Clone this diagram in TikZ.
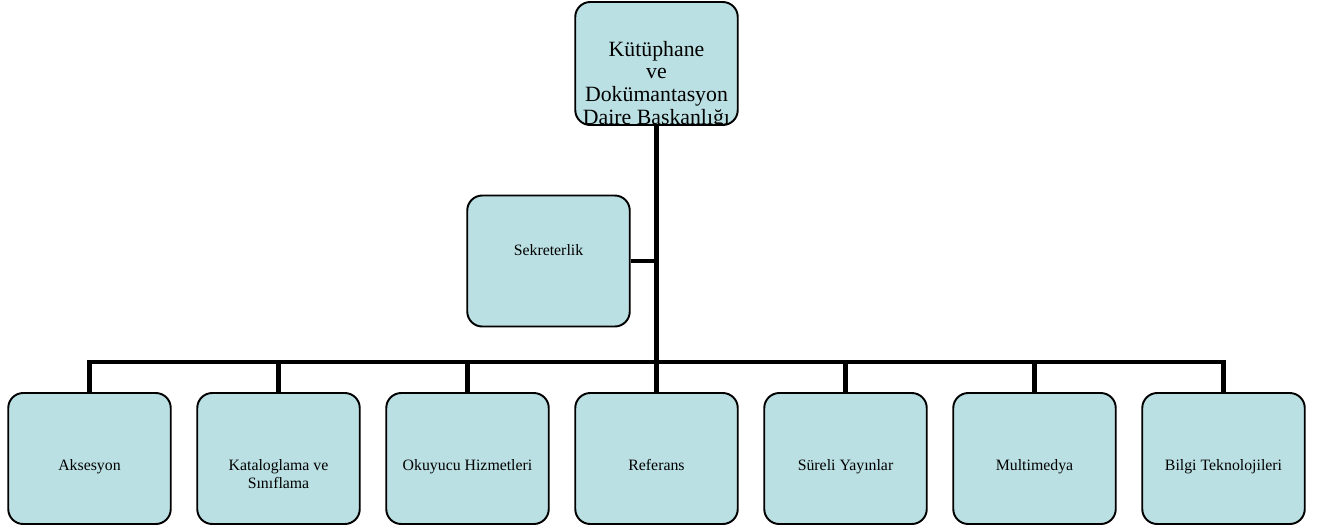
\documentclass[tikz,border=0pt]{standalone}
\usepackage{fontspec}
\setmainfont{Liberation Serif}
\usepackage{xcolor}
\usepackage{tikz}
\definecolor{boxblue}{HTML}{BBE0E3}

\begin{document}
\begin{tikzpicture}[
  box/.style={draw, rounded corners=0.3cm, fill=boxblue, line width=1.1pt, minimum width=3.25cm, minimum height=2.62cm, inner sep=0pt},
  boxtext/.style={draw=none, fill=none, inner sep=0pt, minimum size=0pt, align=center, font=\fontsize{9}{10.2}\selectfont},
  unit/.style={box, label={[boxtext, anchor=north, yshift=-1.34cm]north:#1}},
  level 1/.style={sibling distance=3.78cm, level distance=7.9cm},
  edge from parent/.style={draw, line width=2.7pt},
  edge from parent path={(\tikzparentnode.south) -- ++(0,-4.72) -| (\tikzchildnode.north)}
]
\useasboundingbox (0,0) rectangle (26.48,-10.58);
\node[box, minimum height=2.46cm, path picture={
    \node[boxtext, anchor=north, font=\fontsize{12.4}{12.9}\selectfont] (dairetext)
      at ([yshift=-0.76cm]path picture bounding box.north)
      {Kütüphane\\ve\\Dokümantasyon\\Daire Baskanlığı};
  }] (daire) at (13.13,-1.27) {}
  child {node[unit=Aksesyon] (aksesyon) {}}
  child {node[unit={Kataloglama ve\\Sınıflama}] (kataloglama) {}}
  child {node[unit={Okuyucu Hizmetleri}] (okuyucu) {}}
  child {node[unit=Referans] (referans) {}}
  child {node[unit={Süreli Yayınlar}] (sureli) {}}
  child {node[unit=Multimedya] (multimedya) {}}
  child {node[unit={Bilgi Teknolojileri}] (bilgi) {}};
% sekreterlik hangs off the trunk
\node[box, label={[boxtext, anchor=north, yshift=-1.0cm]north:Sekreterlik}] (sekreterlik) at (10.97,-5.22) {};
\draw[line width=2.7pt] (sekreterlik.east) -- (sekreterlik.east -| daire.south);
\end{tikzpicture}
\end{document}
